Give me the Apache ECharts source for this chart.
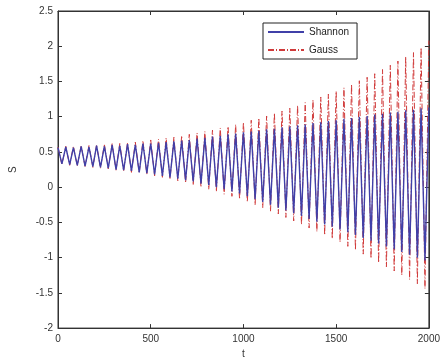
<!DOCTYPE html>
<html>
<head>
<meta charset="utf-8">
<script src="https://cdn.jsdelivr.net/npm/echarts@6/dist/echarts.min.js"></script>
<style>html,body{margin:0;padding:0;background:#fff}#c{width:443px;height:364px}</style>
</head>
<body>
<div id="c"></div>
<script>
// extrema times (t)
var tExt = [0,21,42,63,83,104,125,146,167,188,208,229,250,271,292,313,333,354,375,396,417,438,458,479,500,521,542,563,583,604,625,646,667,688,708,729,750,771,792,813,833,854,875,896,917,938,958,979,1000,1021,1042,1063,1083,1104,1125,1146,1167,1188,1208,1229,1250,1271,1292,1313,1333,1354,1375,1396,1417,1438,1458,1479,1500,1521,1542,1563,1583,1604,1625,1646,1667,1688,1708,1729,1750,1771,1792,1813,1833,1854,1875,1896,1917,1938,1958,1979,2000];
var shannon = [0.56,0.33,0.57,0.32,0.56,0.31,0.58,0.30,0.57,0.29,0.59,0.28,0.58,0.27,0.60,0.25,0.59,0.24,0.61,0.23,0.60,0.21,0.62,0.20,0.62,0.18,0.63,0.16,0.64,0.14,0.65,0.12,0.66,0.10,0.67,0.08,0.69,0.05,0.70,0.03,0.72,0.00,0.73,-0.03,0.75,-0.06,0.76,-0.09,0.78,-0.13,0.79,-0.17,0.80,-0.21,0.82,-0.25,0.83,-0.29,0.85,-0.33,0.86,-0.37,0.88,-0.41,0.89,-0.45,0.91,-0.49,0.92,-0.53,0.94,-0.56,0.95,-0.60,0.97,-0.64,0.98,-0.68,1.00,-0.72,1.01,-0.76,1.03,-0.80,1.04,-0.84,1.06,-0.88,1.07,-0.92,1.09,-0.96,1.10,-1.00,1.12,-1.04,1.13];
var gauss = [0.57,0.32,0.58,0.31,0.58,0.30,0.59,0.29,0.59,0.28,0.60,0.27,0.61,0.26,0.62,0.24,0.62,0.23,0.63,0.21,0.64,0.20,0.66,0.18,0.67,0.16,0.68,0.14,0.70,0.11,0.71,0.09,0.73,0.06,0.75,0.03,0.77,0.00,0.79,-0.03,0.81,-0.06,0.84,-0.10,0.86,-0.13,0.89,-0.17,0.92,-0.21,0.95,-0.25,0.98,-0.29,1.01,-0.34,1.05,-0.38,1.08,-0.43,1.12,-0.48,1.16,-0.53,1.20,-0.58,1.24,-0.63,1.28,-0.68,1.32,-0.73,1.36,-0.78,1.41,-0.84,1.46,-0.89,1.51,-0.95,1.56,-1.01,1.61,-1.07,1.67,-1.13,1.73,-1.19,1.79,-1.25,1.85,-1.31,1.91,-1.37,1.98,-1.44,2.08];
var seriesNames = ['Shannon','Gauss'];
var xLabel = 't', yLabel = 'S';

function pairs(ys){ return tExt.map(function(t,i){ return [t, ys[i]]; }); }

var chart = echarts.init(document.getElementById('c'));
var font = 'Liberation Sans, Arial, sans-serif';
var tickCommon = {inside:true, length:4, lineStyle:{color:'#333'}};
chart.setOption({
  animation:false,
  grid:{left:56, right:11, top:11, bottom:30, show:true, borderColor:'#333', borderWidth:1},
  legend:{
    data:[{name:'Shannon'},{name:'Gauss'}],
    orient:'vertical', left:263, top:23, width:95,
    padding:[4,8,4,4], itemWidth:36, itemHeight:10, itemGap:8,
    itemStyle:{opacity:0},
    borderColor:'#222', borderWidth:1, backgroundColor:'#fff',
    textStyle:{fontFamily:font, fontSize:10, color:'#222'}
  },
  xAxis:[{
    type:'value', min:0, max:2000, interval:500,
    name:xLabel, nameLocation:'middle', nameGap:19,
    nameTextStyle:{fontFamily:font, fontSize:10, color:'#333'},
    axisLine:{onZero:false, lineStyle:{color:'#333'}}, axisTick:tickCommon,
    axisLabel:{fontFamily:font, fontSize:10, color:'#333', margin:6, formatter:function(v){return String(v);}},
    splitLine:{show:false}
  },{
    type:'value', position:'top', min:0, max:2000, interval:500,
    axisLine:{show:true, onZero:false, lineStyle:{color:'#333'}}, axisTick:tickCommon,
    axisLabel:{show:false}, splitLine:{show:false}
  }],
  yAxis:[{
    type:'value', min:-2, max:2.5, interval:0.5,
    name:yLabel, nameLocation:'middle', nameGap:40, nameRotate:90,
    nameTextStyle:{fontFamily:font, fontSize:10, color:'#333'},
    axisLine:{onZero:false, lineStyle:{color:'#333'}}, axisTick:tickCommon,
    axisLabel:{fontFamily:font, fontSize:10, color:'#333', margin:5},
    splitLine:{show:false}
  },{
    type:'value', position:'right', min:-2, max:2.5, interval:0.5,
    axisLine:{show:true, onZero:false, lineStyle:{color:'#333'}}, axisTick:tickCommon,
    axisLabel:{show:false}, splitLine:{show:false}
  }],
  series:[{
    name:seriesNames[0], type:'line', data:pairs(shannon), showSymbol:false, symbol:'none', z:3,
    lineStyle:{color:'#4040a8', width:1.4}, itemStyle:{color:'#4040a8'}
  },{
    name:seriesNames[1], type:'line', data:pairs(gauss), showSymbol:false, symbol:'none', z:2,
    lineStyle:{color:'#d03a3a', width:1, type:[6,2,1,2]}, itemStyle:{color:'#d03a3a'}
  }]
});
</script>
</body>
</html>
